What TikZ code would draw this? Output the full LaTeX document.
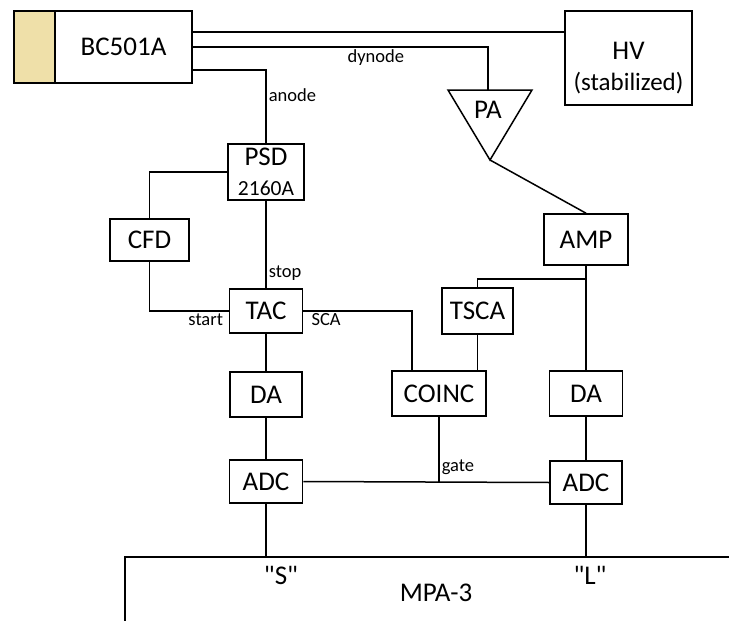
\documentclass[tikz,border=0pt]{standalone}
\usepackage{fontspec}
\setmainfont{Carlito}
\newfontfamily\plainfont{Carlito}
\definecolor{scint}{RGB}{239,224,169}

\begin{document}
\begin{tikzpicture}[x=1pt,y=-1pt,
    box/.style={draw,line width=1.6pt,inner sep=0pt,font=\fontsize{27}{32}\selectfont},
    big/.style={inner sep=0pt,font=\fontsize{27}{32}\selectfont},
    lbl/.style={inner sep=2pt,font=\fontsize{18.5}{22}\selectfont},
    wire/.style={line width=1.5pt}]
      \useasboundingbox (0,0) rectangle (729,621);
      \node [box,fill=scint,minimum width=41pt,minimum height=72pt] (W) at (34.5,47) {};
      \node [box,minimum width=137pt,minimum height=72pt] (BC) at (123.5,47) {BC501A};
      \node [box,minimum width=127pt,minimum height=94pt] (HV) at (628.5,58) {};
      \node [big,align=center] (HVt) at (628.5,68) {HV\\[-1pt]{\fontsize{25}{30}\selectfont (stabilized)}};
      \coordinate (PAl) at (448,90);
      \coordinate (PAr) at (532,90);
      \coordinate (PAb) at (490,160);
      \coordinate (PAt) at (488,90);
      \draw [wire] (PAl) -- (PAr) -- (PAb) -- cycle;
      \node [big] (PA) at (488,110) {PA};
      \node [box,minimum width=76pt,minimum height=56pt,align=center] (PSD) at (266,172) {PSD\\[-2pt]{\fontsize{21.5}{26}\selectfont 2160A}};
      \node [box,minimum width=79pt,minimum height=42pt] (CFD) at (149.5,240) {CFD};
      \node [box,minimum width=73pt,minimum height=44pt] (TAC) at (266,311) {TAC};
      \node [box,minimum width=84pt,minimum height=51pt] (AMP) at (586,239.5) {AMP};
      \node [box,minimum width=71pt,minimum height=46pt] (TSCA) at (477.5,311) {TSCA};
      \node [box,minimum width=94pt,minimum height=45pt] (COINC) at (439,393.5) {COINC};
      \node [box,minimum width=72pt,minimum height=45pt] (DAS) at (266,394.5) {DA};
      \node [box,minimum width=73pt,minimum height=45pt] (DAL) at (586,393.5) {DA};
      \node [box,minimum width=73pt,minimum height=43pt] (ADCS) at (266,481.5) {ADC};
      \node [box,minimum width=72pt,minimum height=43pt] (ADCL) at (586,482.5) {ADC};
      \draw [wire] ([yshift=15pt]BC.east) -- ([yshift=15pt]BC.east -| HV.west);
      \draw [wire] (BC.east) -| node [lbl,pos=0.31,below] (dy) {dynode} (PAt);
      \draw [wire] ([yshift=-23pt]BC.east) -| node [lbl,pos=0.67,right] (an) {anode} (PSD.north);
      \draw [wire] (PSD.west) -| (CFD.north);
      \draw [wire] (CFD.south) |- node [lbl,pos=0.855,below] (st) {start} (TAC.west);
      \draw [wire] (PSD.south) -- node [lbl,pos=0.83,right] (sp) {stop} (TAC.north);
      \draw [wire] (TAC.east) -| node [lbl,pos=0.105,below] (sca) {SCA} ([xshift=-27pt]COINC.north);
      \draw [wire] (PAb) -- (AMP.north);
      \draw [wire] (AMP.south) -- (DAL.north);
      \draw [wire] ([yshift=-13pt]AMP.south) -| (TSCA.north);
      \draw [wire] (TSCA.south) -- (TSCA.south |- COINC.north);
      \draw [wire] (TAC.south) -- (DAS.north);
      \draw [wire] (DAS.south) -- (ADCS.north);
      \draw [wire] (DAL.south) -- (ADCL.north);
      \draw [wire] (ADCS.east) -- (ADCL.west);
      \draw [wire] (COINC.south) -- node [lbl,pos=0.78,right] (gt) {gate} (COINC.south |- ADCS.east);
      \coordinate (M0) at (125,621);
      \coordinate (M1) at (125,557);
      \coordinate (M2) at (729,557);
      \draw [wire] (M0) -- (M1) -- (M2);
      \draw [wire] (ADCS.south) -- (ADCS.south |- M1);
      \draw [wire] (ADCL.south) -- (ADCL.south |- M1);
      \node [big,font=\fontsize{27}{32}\plainfont] (S) at (281,575) {"S"};
      \node [big,font=\fontsize{27}{32}\plainfont] (L) at (590,575) {"L"};
      \node [big] (MPA) at (436,593) {MPA-3};
    \end{tikzpicture}
\end{document}
